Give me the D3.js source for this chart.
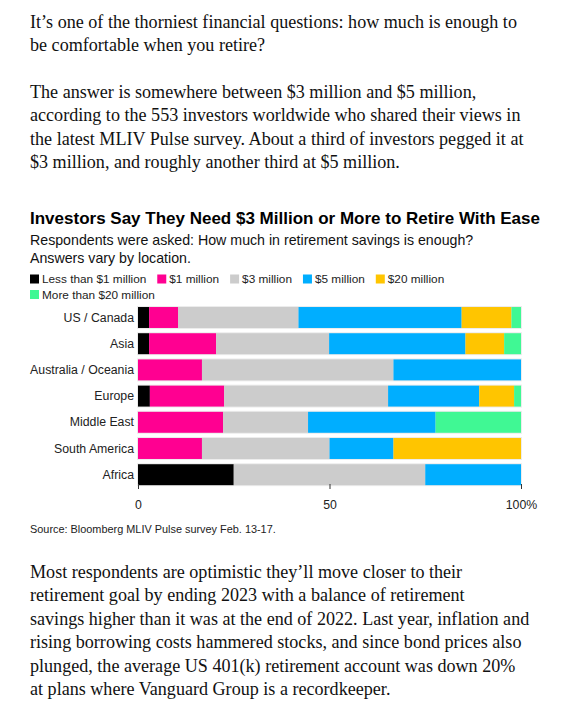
<!DOCTYPE html>
<html>
<head>
<meta charset="utf-8">
<script src="https://cdn.jsdelivr.net/npm/d3@7"></script>
<style>
  body { margin: 0; background: #fff; }
  svg { display: block; }
</style>
</head>
<body>
<div id="page"></div>
<script>
// Stacked 100% bar chart inside an article excerpt.

const intro = [
  ["It\u2019s one of the thorniest financial questions: how much is enough to",
   "be comfortable when you retire?"],
  ["The answer is somewhere between $3 million and $5 million,",
   "according to the 553 investors worldwide who shared their views in",
   "the latest MLIV Pulse survey. About a third of investors pegged it at",
   "$3 million, and roughly another third at $5 million."]
];
const outro = [
  "Most respondents are optimistic they\u2019ll move closer to their",
  "retirement goal by ending 2023 with a balance of retirement",
  "savings higher than it was at the end of 2022. Last year, inflation and",
  "rising borrowing costs hammered stocks, and since bond prices also",
  "plunged, the average US 401(k) retirement account was down 20%",
  "at plans where Vanguard Group is a recordkeeper."
];

const title = "Investors Say They Need $3 Million or More to Retire With Ease";
const subtitle = ["Respondents were asked: How much in retirement savings is enough?",
                  "Answers vary by location."];
const source = "Source: Bloomberg MLIV Pulse survey Feb. 13-17.";

const regions = ["US / Canada", "Asia", "Australia / Oceania", "Europe",
                 "Middle East", "South America", "Africa"];
const answers = ["Less than $1 million", "$1 million", "$3 million",
                 "$5 million", "$20 million", "More than $20 million"];
const colors = ["#000000", "#ff0091", "#cccccc", "#00aeff", "#ffc500", "#40f894"];

// share of respondents (%) per region, in answer order
const lessThan1 = [2.9, 2.9, 0, 3.1, 0, 0, 25];
const one       = [7.6, 17.5, 16.7, 19.4, 22.2, 16.7, 0];
const three     = [31.4, 29.5, 50, 42.8, 22.2, 33.3, 50];
const five      = [42.6, 35.6, 33.3, 23.8, 33.3, 16.7, 25];
const twenty    = [13.0, 10.1, 0, 9.1, 0, 33.3, 0];
const moreThan20 = [2.5, 4.4, 0, 1.8, 22.3, 0, 0];

const xTicks = [0, 50, 100];

const W = 574, H = 720;
const serif = "'Liberation Serif', 'Times New Roman', serif";
const sans = "'Liberation Sans', Arial, sans-serif";

const svg = d3.select("#page").append("svg")
    .attr("width", W).attr("height", H);

// body text
function drawLines(lines, y0, lh) {
  lines.forEach((t, i) => {
    svg.append("text")
        .attr("class", "body")
        .attr("x", 30).attr("y", y0 + i * lh)
        .attr("font-family", serif)
        .attr("font-size", 18.1)
        .attr("fill", "#111")
        .text(t);
  });
}
drawLines(intro[0], 28, 23.4);
drawLines(intro[1], 98, 23.4);
drawLines(outro, 578, 23.4);

// chart header
svg.append("text")
    .attr("x", 30).attr("y", 224)
    .attr("font-family", sans).attr("font-weight", "bold")
    .attr("font-size", 17).attr("fill", "#000")
    .text(title);

subtitle.forEach((t, i) => {
  svg.append("text")
      .attr("x", 30).attr("y", 245 + i * 17.5)
      .attr("font-family", sans).attr("font-size", 14.2)
      .attr("fill", "#111")
      .text(t);
});

// legend, wrapping at the chart width
const legend = svg.append("g").attr("font-family", sans).attr("font-size", 11.8);
let lx = 30, ly = 279;
answers.forEach((a, i) => {
  const g = legend.append("g");
  g.append("rect").attr("x", 0).attr("y", -4.5)
      .attr("width", 9).attr("height", 9).attr("fill", colors[i]);
  const txt = g.append("text").attr("x", 12).attr("y", 4)
      .attr("fill", "#222").text(a);
  const w = 12 + txt.node().getComputedTextLength() + 11;
  if (lx + w > 545 && lx > 30) { lx = 30; ly += 15.5; }
  g.attr("transform", `translate(${lx},${ly})`);
  lx += w;
});

// bars
const table = regions.map((r, i) => {
  const row = { region: r };
  [lessThan1, one, three, five, twenty, moreThan20].forEach((s, j) => {
    row[answers[j]] = s[i];
  });
  return row;
});
const series = d3.stack().keys(answers)
    .offset(d3.stackOffsetExpand)(table);

const x = d3.scaleLinear().domain([0, 1]).range([138, 521]);
const y = d3.scaleBand().domain(regions).range([304.4, 487.8])
    .paddingInner(0.2).paddingOuter(0.1);

// light track behind each bar
svg.append("g").selectAll("rect")
  .data(regions)
  .join("rect")
    .attr("x", x(0) - 1).attr("y", d => y(d) - 1)
    .attr("width", x(1) - x(0) + 2).attr("height", y.bandwidth() + 2)
    .attr("fill", "#ececec");

svg.append("g").selectAll("g")
  .data(series)
  .join("g")
    .attr("fill", (d, i) => colors[i])
  .selectAll("rect")
  .data(d => d)
  .join("rect")
    .attr("x", d => x(d[0]))
    .attr("y", d => y(d.data.region))
    .attr("width", d => x(d[1]) - x(d[0]))
    .attr("height", y.bandwidth());

// region labels
svg.append("g")
    .attr("font-family", sans).attr("font-size", 12.3).attr("fill", "#222")
  .selectAll("text")
  .data(regions)
  .join("text")
    .attr("x", x(0) - 4)
    .attr("y", d => y(d) + y.bandwidth() / 2 + 4)
    .attr("text-anchor", "end")
    .text(d => d);

// x axis
const xAxis = d3.axisBottom(x.copy().domain([0, 100]))
    .tickValues(xTicks)
    .tickSize(5)
    .tickPadding(11)
    .tickFormat(d => d === 100 ? "100%" : d);
svg.append("g")
    .attr("transform", `translate(0,${484})`)
    .call(xAxis)
    .call(g => g.select(".domain").remove())
    .call(g => g.selectAll("line").attr("stroke", "#333"))
    .call(g => g.selectAll("text")
        .attr("font-family", sans).attr("font-size", 12.3).attr("fill", "#222"));

svg.append("text")
    .attr("x", 30).attr("y", 533)
    .attr("font-family", sans).attr("font-size", 10.9)
    .attr("fill", "#222")
    .text(source);
</script>
</body>
</html>
